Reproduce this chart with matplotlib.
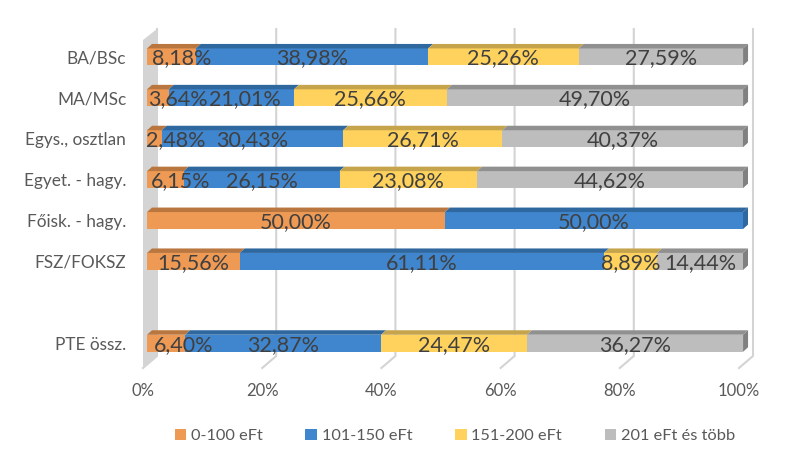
"""Stacked 100% bars with a fake 3D look: income bands by study level."""
import matplotlib
matplotlib.use("Agg")
import matplotlib.pyplot as plt
from matplotlib.patches import Patch, Polygon
from matplotlib.transforms import ScaledTranslation

plt.rcParams["font.family"] = ["Lato", "DejaVu Sans"]

CATEGORIES = ["BA/BSc", "MA/MSc", "Egys., osztlan", "Egyet. - hagy.",
              "Főisk. - hagy.", "FSZ/FOKSZ", "", "PTE össz."]
SERIES = ["0-100 eFt", "101-150 eFt", "151-200 eFt", "201 eFt és több"]
LOW = [8.18, 3.64, 2.48, 6.15, 50.00, 15.56, 0, 6.40]
MID = [38.98, 21.01, 30.43, 26.15, 50.00, 61.11, 0, 32.87]
HIGH = [25.26, 25.66, 26.71, 23.08, 0, 8.89, 0, 24.47]
TOP = [27.59, 49.70, 40.37, 44.62, 0, 14.44, 0, 36.27]
XTICKS = [0, 20, 40, 60, 80, 100]

FRONT = ["#EE9A55", "#3F86CE", "#FFD25E", "#BDBDBD"]
CAP = ["#B9773F", "#2F689F", "#C6A44C", "#909090"]
TEXT = "#404040"
AXIS_TEXT = "#595959"
GRID = "#D4D4D4"

# pixel geometry of the reference
PX_LEFT, PX_PER_PCT = 147, 5.96
PX_TOP, PX_PER_ROW = 36.5, 40.9
BAR_H = 17 / PX_PER_ROW
CAP_DX, CAP_DY = 5 / PX_PER_PCT, 4.5 / PX_PER_ROW

# labels Excel pushed sideways, (row, series) -> pixels
NUDGE = {(0, 0): 10, (1, 0): 20, (1, 1): 14, (2, 0): 21, (3, 0): 15, (7, 0): 18}


def px_x(px):
    return (px - PX_LEFT) / PX_PER_PCT


def px_y(px):
    return (px - PX_TOP) / PX_PER_ROW - 0.5


def draw_walls(ax):
    wall = [(px_x(143), px_y(368)), (px_x(157), px_y(356)),
            (px_x(157), px_y(29)), (px_x(143), px_y(40))]
    ax.add_patch(Polygon(wall, fc=GRID, ec="none", zorder=1, clip_on=False))
    for t in XTICKS:
        xb = px_x(157) + t
        xf = px_x(143) + t
        ax.plot([xb, xb, xf], [px_y(29), px_y(356), px_y(368)], color=GRID,
                lw=1.5, zorder=1, clip_on=False, solid_joinstyle="miter")


def main():
    fig = plt.figure(figsize=(8.09, 4.66), dpi=100)
    ax = fig.add_axes([PX_LEFT / 809, (466 - PX_TOP - 8 * PX_PER_ROW) / 466,
                       100 * PX_PER_PCT / 809, 8 * PX_PER_ROW / 466])
    ax.set_xlim(0, 100)
    ax.set_ylim(7.5, -0.5)
    for s in ax.spines.values():
        s.set_visible(False)

    draw_walls(ax)

    rows = range(len(CATEGORIES))
    left = [0.0] * len(CATEGORIES)
    for si, values in enumerate([LOW, MID, HIGH, TOP]):
        ax.barh(list(rows), values, left=left, height=BAR_H, color=FRONT[si], zorder=3)
        for r in rows:
            v = values[r]
            if v == 0:
                continue
            x0, x1 = left[r], left[r] + v
            yt = r - BAR_H / 2
            ax.add_patch(Polygon([(x0, yt), (x0 + CAP_DX, yt - CAP_DY),
                                  (x1 + CAP_DX, yt - CAP_DY), (x1, yt)],
                                 fc=CAP[si], ec="none", zorder=3, clip_on=False))
            if x1 > 99.9:
                ax.add_patch(Polygon([(x1, yt), (x1 + CAP_DX, yt - CAP_DY),
                                      (x1 + CAP_DX, yt + BAR_H - CAP_DY), (x1, yt + BAR_H)],
                                     fc="#808080" if si == 3 else "#2F689F",
                                     ec="none", zorder=3, clip_on=False))
            xc = (x0 + x1) / 2 + NUDGE.get((r, si), 0) / PX_PER_PCT
            ax.text(xc, r + 0.04, f"{v:.2f}%".replace(".", ","), ha="center", va="center",
                    fontsize=15.5, color=TEXT, zorder=5)
            left[r] = x1

    ax.set_yticks(list(rows))
    ax.set_yticklabels(CATEGORIES, fontsize=12.4, color=AXIS_TEXT)
    ax.set_xticks(XTICKS)
    ax.set_xticklabels([f"{t}%" for t in XTICKS], fontsize=12, color=AXIS_TEXT)
    ax.tick_params(axis="y", length=0, pad=15)
    ax.tick_params(axis="x", length=0, pad=14)
    shift = ScaledTranslation(-4 / 100, 0, fig.dpi_scale_trans)
    for lbl in ax.get_xticklabels():
        lbl.set_transform(lbl.get_transform() + shift)

    handles = [Patch(fc=c, ec="none") for c in FRONT]
    fig.legend(handles, SERIES, loc="center", bbox_to_anchor=(455 / 809, 1 - 436 / 466),
               ncol=4, frameon=False, fontsize=11.8, labelcolor=AXIS_TEXT, handlelength=0.7,
               handleheight=0.7, handletextpad=0.3, columnspacing=2.6)

    fig.savefig("out.png", dpi=100)


if __name__ == "__main__":
    main()
